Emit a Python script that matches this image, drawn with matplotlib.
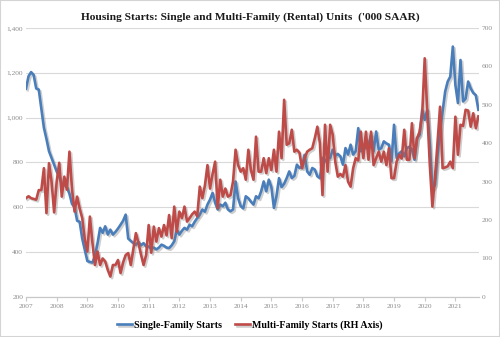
import matplotlib
matplotlib.use("Agg")
import matplotlib.pyplot as plt
import matplotlib.patheffects as pe
from matplotlib.patches import Rectangle
from matplotlib.ticker import FuncFormatter, MultipleLocator
import numpy as np

# monthly starts, Jan 2007 .. Oct 2021, thousands SAAR
single_family = [
    1130, 1185, 1203, 1190, 1130, 1125, 1040, 955, 905, 850, 820, 790,   # 2007
    760, 735, 705, 700, 690, 660, 615, 600, 540, 535, 460, 410,          # 2008
    360, 356, 353, 385, 440, 508, 486, 515, 478, 500, 478, 490,          # 2009
    505, 522, 540, 567, 460, 450, 440, 433, 445, 430, 440, 425,          # 2010
    425, 415, 420, 412, 420, 433, 428, 420, 418, 430, 448, 500,          # 2011
    478, 495, 508, 500, 522, 515, 535, 552, 567, 590, 580, 612,          # 2012
    634, 664, 620, 590, 612, 605, 620, 590, 582, 590, 715, 640,          # 2013
    605, 595, 649, 640, 625, 612, 649, 640, 671, 715, 671, 723,          # 2014
    690, 597, 650, 730, 690, 705, 730, 760, 730, 740, 790, 775,          # 2015
    782, 834, 760, 745, 775, 768, 738, 730, 820, 805, 820, 820,          # 2016
    857, 830, 838, 827, 790, 864, 835, 879, 835, 850, 953, 850,          # 2017
    879, 864, 879, 923, 850, 938, 857, 864, 894, 885, 879, 805,          # 2018
    968, 820, 840, 850, 827, 864, 870, 857, 812, 908, 923, 1035,         # 2019
    990, 1035, 880, 680, 700, 830, 940, 1027, 1116, 1161, 1183, 1317,    # 2020
    1146, 1065, 1257, 1072, 1085, 1161, 1130, 1110, 1100, 1035,          # 2021
]

multi_family = [
    257, 262, 257, 255, 253, 278, 278, 335, 218, 348, 300, 220,   # 2007
    300, 349, 261, 313, 279, 378, 280, 222, 261, 230, 205, 150,   # 2008
    118, 209, 140, 83, 118, 83, 100, 92, 70, 53, 83, 83,          # 2009
    96, 62, 90, 109, 114, 83, 125, 166, 140, 110, 83, 109,        # 2010
    187, 115, 183, 144, 179, 157, 187, 160, 213, 153, 235, 170,   # 2011
    222, 205, 235, 196, 205, 215, 222, 210, 287, 257, 290, 343,   # 2012
    282, 320, 352, 231, 305, 261, 282, 261, 265, 300, 383, 343,   # 2013
    326, 335, 305, 383, 330, 305, 417, 326, 326, 361, 322, 361,   # 2014
    330, 383, 326, 430, 361, 513, 396, 400, 435, 378, 383, 375,   # 2015
    335, 360, 378, 383, 387, 413, 443, 400, 265, 448, 326, 448,   # 2016
    422, 352, 313, 320, 313, 343, 300, 287, 335, 361, 355, 430,   # 2017
    361, 430, 357, 430, 343, 361, 378, 352, 378, 343, 387, 309,   # 2018
    309, 352, 370, 360, 435, 357, 357, 452, 361, 413, 430, 474,   # 2019
    621, 482, 343, 235, 310, 400, 495, 335, 337, 340, 352, 335,   # 2020
    469, 370, 448, 445, 487, 485, 443, 478, 439, 470,             # 2021
]

years = list(range(2007, 2022))
t = 2007 + np.arange(len(single_family)) / 12.0

blue = "#4a7ebb"
red = "#be4b48"
grey_txt = "#8c8c8c"
serif = "Liberation Serif"

fig = plt.figure(figsize=(5.0, 3.37), dpi=100)
ax = fig.add_axes([0.052, 0.119, 0.906, 0.798])
ax2 = ax.twinx()

shadow = [pe.SimpleLineShadow(offset=(1.2, -1.2), shadow_color="#777777", alpha=0.35), pe.Normal()]
l1, = ax.plot(t, single_family, color=blue, lw=1.9, path_effects=shadow, solid_joinstyle="round")
l2, = ax2.plot(t, multi_family, color=red, lw=1.9, path_effects=shadow, solid_joinstyle="round")

ax.set_ylim(200, 1400)
ax2.set_ylim(0, 700)
ax.set_xlim(2007, t[-1] + 0.02)

ax.yaxis.set_major_locator(MultipleLocator(200))
ax2.yaxis.set_major_locator(MultipleLocator(100))
ax.yaxis.set_major_formatter(FuncFormatter(lambda v, p: f"{v:,.0f}"))
ax.set_xticks(years)
ax.set_xticklabels([str(y) for y in years])

ax.grid(axis="y", color="#d9d9d9", lw=0.8)
ax.set_axisbelow(True)
for a in (ax, ax2):
    for s in ("top", "left", "right"):
        a.spines[s].set_visible(False)
    a.spines["bottom"].set_color("#c8c8c8")
    a.tick_params(axis="y", length=0, labelsize=5.3, labelcolor=grey_txt, pad=2)
    for lab in a.get_yticklabels():
        lab.set_fontfamily(serif)
ax.tick_params(axis="x", length=3, color="#c8c8c8", labelsize=5.3, labelcolor=grey_txt, pad=2)
for lab in ax.get_xticklabels():
    lab.set_fontfamily(serif)

fig.text(0.5, 0.95, "Housing Starts: Single and Multi-Family (Rental) Units  ('000 SAAR)",
         ha="center", va="center", fontsize=8.2, fontweight="bold", family=serif, color="#1a1a1a")

fig.legend([l1, l2], ["Single-Family Starts", "Multi-Family Starts (RH Axis)"],
           loc="center", bbox_to_anchor=(0.5, 0.035), ncol=2, frameon=False,
           handlelength=1.5, columnspacing=1.3, handletextpad=0.2,
           prop={"family": serif, "weight": "bold", "size": 7.2})

fig.patches.append(Rectangle((0, 0), 1, 1, transform=fig.transFigure, fill=False,
                             edgecolor="#d4d4d4", lw=1.5))

fig.savefig("out.png", dpi=100)
